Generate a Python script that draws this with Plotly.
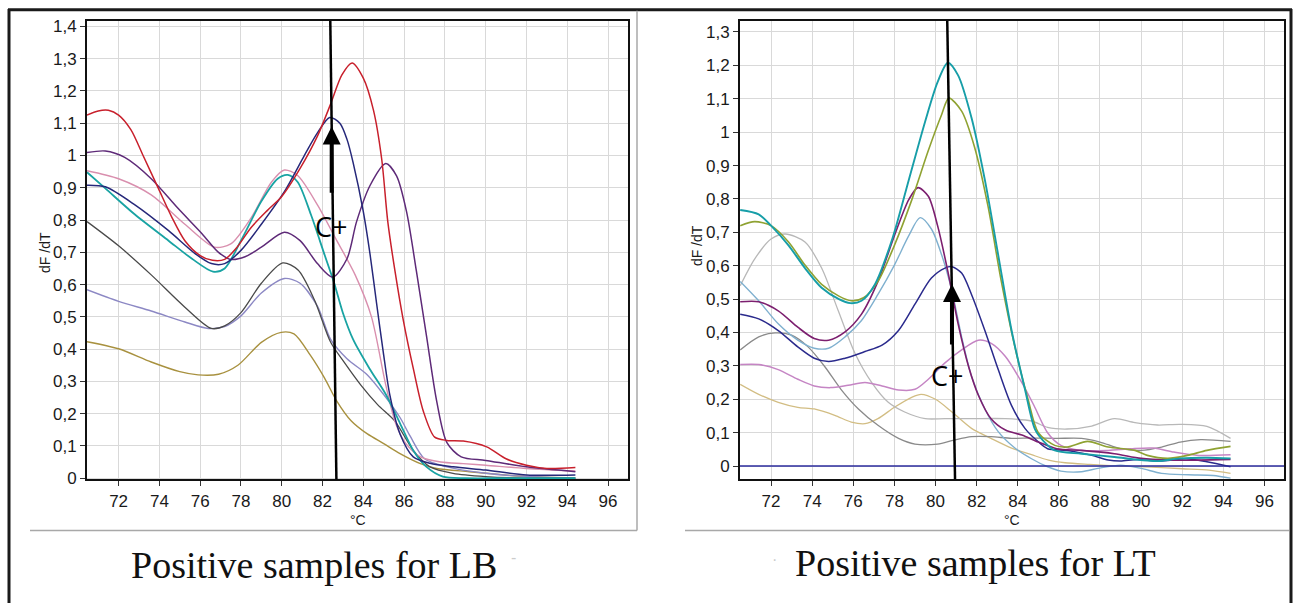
import plotly.graph_objects as go

# ---------------- DATA : left panel (LB) ----------------
LB_red_T = [70.45, 71.0, 71.5, 72.0, 72.6, 73.2, 73.95, 74.6, 75.25, 76.0, 76.6, 77.2, 77.8, 78.5, 79.3, 80.0, 80.9, 81.75, 82.4, 82.95, 83.45, 84.0, 84.5, 84.9, 85.2, 85.55, 85.96, 86.45, 86.94, 87.5, 88.1, 88.9, 90.05, 91.0, 92.0, 93.0, 94.4]
LB_red_V = [1.125, 1.138, 1.14, 1.125, 1.08, 1.0, 0.898, 0.81, 0.736, 0.69, 0.675, 0.678, 0.715, 0.777, 0.83, 0.873, 0.96, 1.06, 1.16, 1.25, 1.287, 1.24, 1.14, 0.99, 0.795, 0.643, 0.49, 0.34, 0.208, 0.127, 0.117, 0.115, 0.097, 0.06, 0.04, 0.03, 0.033]

LB_navy_T = [70.45, 71.35, 72.8, 74.45, 75.75, 76.55, 77.2, 78.0, 79.0, 80.13, 81.1, 81.75, 82.35, 82.85, 83.2, 83.5, 84.0, 84.33, 84.65, 84.98, 85.3, 85.8, 86.45, 87.27, 88.4, 90.0, 92.0, 94.4]
LB_navy_V = [0.908, 0.903, 0.847, 0.767, 0.696, 0.665, 0.665, 0.706, 0.787, 0.888, 0.999, 1.07, 1.118, 1.1, 1.05, 0.978, 0.826, 0.694, 0.542, 0.39, 0.258, 0.137, 0.066, 0.046, 0.035, 0.025, 0.01, 0.01]

LB_purple_T = [70.45, 71.35, 72.3, 73.6, 74.9, 76.1, 76.9, 77.5, 78.2, 79.0, 80.13, 80.9, 81.75, 82.5, 83.2, 83.67, 84.33, 85.1, 85.63, 86.12, 86.6, 87.1, 87.6, 88.1, 88.8, 90.0, 92.0, 94.4]
LB_purple_V = [1.009, 1.014, 0.994, 0.928, 0.837, 0.757, 0.70, 0.678, 0.686, 0.716, 0.762, 0.736, 0.665, 0.623, 0.68, 0.795, 0.907, 0.975, 0.937, 0.826, 0.643, 0.44, 0.238, 0.11, 0.066, 0.055, 0.035, 0.02]

LB_pink_T = [70.45, 72.0, 73.6, 75.25, 76.7, 77.5, 78.5, 79.5, 80.13, 80.78, 81.75, 82.7, 83.6, 84.4, 85.1, 85.6, 86.1, 86.8, 87.8, 88.9, 90.0, 92.0, 94.4]
LB_pink_V = [0.953, 0.928, 0.878, 0.787, 0.716, 0.726, 0.807, 0.918, 0.955, 0.938, 0.847, 0.736, 0.63, 0.5, 0.289, 0.167, 0.106, 0.066, 0.05, 0.045, 0.04, 0.03, 0.022]

LB_teal_T = [70.45, 71.35, 72.8, 74.45, 75.6, 76.63, 77.2, 78.0, 79.0, 79.8, 80.3, 80.78, 81.43, 82.08, 82.57, 83.0, 83.5, 84.3, 85.1, 85.8, 86.45, 87.1, 87.9, 89.0, 91.0, 94.4]
LB_teal_V = [0.948, 0.898, 0.817, 0.736, 0.68, 0.64, 0.65, 0.736, 0.858, 0.928, 0.94, 0.918, 0.817, 0.696, 0.605, 0.512, 0.43, 0.34, 0.26, 0.17, 0.086, 0.035, 0.005, 0.0, 0.0, 0.0]

LB_dgray_T = [70.45, 72.0, 73.6, 75.25, 76.55, 77.2, 78.0, 79.0, 80.05, 80.8, 81.6, 82.4, 83.05, 83.87, 84.7, 85.55, 86.45, 87.27, 88.4, 90.0, 92.0, 94.4]
LB_dgray_V = [0.795, 0.72, 0.63, 0.53, 0.464, 0.472, 0.513, 0.604, 0.667, 0.645, 0.553, 0.421, 0.36, 0.289, 0.228, 0.177, 0.086, 0.035, 0.015, 0.005, 0.0, 0.0]

LB_lav_T = [70.45, 72.0, 73.6, 75.25, 76.4, 77.2, 78.0, 79.0, 80.13, 80.9, 81.75, 82.4, 83.2, 84.2, 85.0, 85.8, 86.3, 87.0, 88.1, 90.0, 92.0, 94.4]
LB_lav_V = [0.584, 0.548, 0.518, 0.484, 0.464, 0.47, 0.503, 0.574, 0.619, 0.604, 0.533, 0.43, 0.37, 0.32, 0.259, 0.188, 0.13, 0.06, 0.035, 0.015, 0.005, 0.0]

LB_olive_T = [70.45, 72.0, 73.6, 75.0, 75.9, 76.9, 77.85, 79.0, 79.97, 80.6, 81.4, 82.1, 82.7, 83.4, 84.2, 85.0, 85.8, 86.8, 87.6, 89.2, 90.9, 92.0, 94.4]
LB_olive_V = [0.423, 0.401, 0.36, 0.33, 0.32, 0.322, 0.35, 0.421, 0.452, 0.447, 0.381, 0.31, 0.239, 0.178, 0.137, 0.107, 0.076, 0.045, 0.03, 0.02, 0.01, 0.005, 0.0]

# ---------------- DATA : right panel (LT) ----------------
LT_teal_T = [70.5, 71.4, 72.0, 72.85, 73.65, 74.46, 75.3, 75.85, 76.4, 77.05, 77.9, 78.7, 79.5, 80.1, 80.6, 81.1, 81.75, 82.4, 83.05, 83.7, 84.35, 84.84, 85.3, 85.8, 87.1, 88.7, 90.0, 90.8, 91.9, 93.2, 94.35]
LT_teal_V = [0.767, 0.754, 0.72, 0.661, 0.593, 0.534, 0.5, 0.488, 0.495, 0.544, 0.681, 0.857, 1.033, 1.15, 1.208, 1.17, 1.043, 0.857, 0.632, 0.406, 0.23, 0.11, 0.072, 0.047, 0.037, 0.027, 0.018, 0.015, 0.023, 0.025, 0.023]

LT_green_T = [70.5, 71.2, 72.0, 72.85, 73.65, 74.46, 75.3, 75.9, 76.5, 77.2, 78.0, 78.85, 79.65, 80.3, 80.65, 81.27, 81.9, 82.55, 83.2, 83.86, 84.5, 85.0, 85.8, 86.4, 87.4, 88.4, 89.7, 90.3, 91.3, 92.25, 93.2, 94.35]
LT_green_V = [0.72, 0.732, 0.72, 0.671, 0.602, 0.544, 0.509, 0.495, 0.504, 0.553, 0.661, 0.798, 0.945, 1.053, 1.102, 1.063, 0.955, 0.779, 0.553, 0.357, 0.2, 0.1, 0.062, 0.057, 0.074, 0.057, 0.047, 0.032, 0.023, 0.032, 0.047, 0.059]

LT_magenta_T = [70.5, 71.4, 72.35, 73.3, 74.1, 74.8, 75.6, 76.4, 77.2, 78.0, 78.7, 79.15, 79.65, 80.1, 80.6, 81.1, 81.6, 82.1, 82.7, 83.4, 84.2, 85.0, 85.9, 87.1, 88.7, 90.0, 91.3, 92.8, 94.35]
LT_magenta_V = [0.492, 0.492, 0.465, 0.416, 0.382, 0.377, 0.402, 0.455, 0.553, 0.69, 0.798, 0.834, 0.808, 0.72, 0.583, 0.426, 0.3, 0.21, 0.142, 0.108, 0.093, 0.072, 0.052, 0.047, 0.037, 0.023, 0.018, 0.018, 0.02]

LT_steel_T = [70.5, 71.4, 72.35, 73.3, 74.1, 74.8, 75.6, 76.4, 77.2, 78.0, 78.7, 79.25, 79.8, 80.3, 80.8, 81.27, 81.75, 82.4, 83.05, 83.86, 84.67, 85.45, 86.1, 87.1, 87.9, 89.0, 90.0, 91.0, 92.3, 93.5, 94.35]
LT_steel_V = [0.553, 0.495, 0.426, 0.377, 0.353, 0.353, 0.387, 0.436, 0.514, 0.602, 0.69, 0.744, 0.71, 0.632, 0.524, 0.387, 0.269, 0.171, 0.103, 0.054, 0.022, -0.002, -0.015, -0.017, -0.007, 0.003, -0.007, -0.022, -0.026, -0.028, -0.036]

LT_navy_T = [70.5, 71.4, 72.35, 73.3, 74.1, 74.8, 75.6, 76.57, 77.4, 78.2, 79.0, 79.8, 80.46, 80.8, 81.27, 81.75, 82.4, 83.05, 83.7, 84.35, 84.9, 85.45, 86.4, 87.6, 88.4, 89.0, 89.8, 90.9, 92.2, 93.2, 94.35]
LT_navy_V = [0.455, 0.441, 0.406, 0.357, 0.323, 0.313, 0.323, 0.343, 0.362, 0.406, 0.485, 0.563, 0.593, 0.597, 0.578, 0.514, 0.406, 0.289, 0.181, 0.113, 0.078, 0.052, 0.047, 0.032, 0.018, 0.015, 0.02, 0.015, 0.022, 0.013, -0.002]

LT_orchid_T = [70.5, 71.4, 72.35, 73.3, 74.1, 74.9, 75.75, 76.57, 77.4, 78.2, 79.0, 79.65, 80.46, 81.27, 82.08, 82.73, 83.4, 84.2, 84.8, 85.45, 86.1, 87.1, 88.4, 89.5, 90.6, 91.6, 92.8, 94.35]
LT_orchid_V = [0.304, 0.304, 0.289, 0.26, 0.24, 0.235, 0.242, 0.25, 0.24, 0.228, 0.23, 0.26, 0.309, 0.348, 0.377, 0.367, 0.328, 0.25, 0.18, 0.1, 0.062, 0.047, 0.047, 0.052, 0.054, 0.042, 0.032, 0.034]

LT_lgray_T = [70.5, 71.2, 72.0, 72.7, 73.65, 74.46, 75.27, 76.08, 76.9, 77.7, 78.5, 79.5, 80.46, 81.75, 83.4, 84.67, 85.45, 86.4, 87.6, 88.7, 89.7, 90.8, 91.9, 93.2, 94.35]
LT_lgray_V = [0.54, 0.62, 0.68, 0.695, 0.671, 0.593, 0.465, 0.338, 0.25, 0.191, 0.162, 0.142, 0.142, 0.142, 0.142, 0.135, 0.116, 0.111, 0.12, 0.142, 0.13, 0.123, 0.125, 0.119, 0.083]

LT_mgray_T = [70.5, 71.4, 72.2, 73.0, 73.8, 74.6, 75.4, 76.25, 77.2, 78.2, 79.0, 80.1, 80.9, 81.75, 82.7, 83.7, 84.65, 85.9, 87.1, 88.0, 89.0, 90.0, 91.0, 91.9, 92.9, 94.35]
LT_mgray_V = [0.348, 0.387, 0.399, 0.392, 0.357, 0.299, 0.23, 0.171, 0.122, 0.083, 0.066, 0.066, 0.078, 0.088, 0.088, 0.083, 0.084, 0.083, 0.083, 0.072, 0.052, 0.047, 0.057, 0.072, 0.079, 0.074]

LT_tan_T = [70.5, 71.4, 72.35, 73.3, 74.1, 75.1, 75.9, 76.57, 77.2, 78.0, 78.84, 79.3, 80.0, 80.8, 81.75, 82.7, 83.7, 84.67, 85.5, 86.3, 87.5, 89.0, 90.5, 92.0, 93.3, 94.35]
LT_tan_V = [0.245, 0.215, 0.191, 0.176, 0.171, 0.152, 0.132, 0.127, 0.142, 0.176, 0.206, 0.215, 0.2, 0.162, 0.113, 0.083, 0.054, 0.034, 0.018, 0.01, 0.005, 0.0, -0.003, -0.008, -0.012, -0.022]

X_TICKS = [72, 74, 76, 78, 80, 82, 84, 86, 88, 90, 92, 94, 96]
LB_Y_TICKS = [0, 0.1, 0.2, 0.3, 0.4, 0.5, 0.6, 0.7, 0.8, 0.9, 1.0, 1.1, 1.2, 1.3, 1.4]
LT_Y_TICKS = [0, 0.1, 0.2, 0.3, 0.4, 0.5, 0.6, 0.7, 0.8, 0.9, 1.0, 1.1, 1.2, 1.3]
CAPTIONS = ["Positive samples for LB", "Positive samples for LT"]

# ---------------- FIGURE ----------------
W, H = 1295, 610
def px(x):
    return x / W
def py(y):
    return 1 - y / H

fig = go.Figure()

left_series = [
    (LB_olive_T, LB_olive_V, "#a8913f", 1.4),
    (LB_lav_T, LB_lav_V, "#8c88c4", 1.4),
    (LB_dgray_T, LB_dgray_V, "#4a4a4a", 1.3),
    (LB_pink_T, LB_pink_V, "#d98fae", 1.4),
    (LB_teal_T, LB_teal_V, "#19a3a3", 1.8),
    (LB_purple_T, LB_purple_V, "#5e2a78", 1.5),
    (LB_navy_T, LB_navy_V, "#26287a", 1.5),
    (LB_red_T, LB_red_V, "#c8202c", 1.5),
]
for T, V, c, w in left_series:
    fig.add_trace(go.Scatter(x=T, y=V, mode="lines", xaxis="x", yaxis="y",
                             line=dict(color=c, width=w, shape="spline", smoothing=0.8),
                             showlegend=False, hoverinfo="skip"))

right_series = [
    (LT_tan_T, LT_tan_V, "#d2bd83", 1.3),
    (LT_mgray_T, LT_mgray_V, "#8a8a8a", 1.3),
    (LT_lgray_T, LT_lgray_V, "#b8b8b8", 1.3),
    (LT_orchid_T, LT_orchid_V, "#c585c4", 1.5),
    (LT_steel_T, LT_steel_V, "#7fb0cf", 1.4),
    (LT_navy_T, LT_navy_V, "#2a2a8c", 1.5),
    (LT_magenta_T, LT_magenta_V, "#7c1f6f", 1.6),
    (LT_green_T, LT_green_V, "#8fa232", 1.6),
    (LT_teal_T, LT_teal_V, "#179ea8", 1.9),
]
for T, V, c, w in right_series:
    fig.add_trace(go.Scatter(x=T, y=V, mode="lines", xaxis="x2", yaxis="y2",
                             line=dict(color=c, width=w, shape="spline", smoothing=0.8),
                             showlegend=False, hoverinfo="skip"))

tick_font = dict(family="Liberation Sans Narrow, Arial Narrow, Liberation Sans, Arial", size=17, color="#1a1a1a")
axis_common = dict(showgrid=True, gridcolor="#d9d9d9", gridwidth=1, zeroline=False,
                   showline=True, linecolor="#111111", linewidth=2, mirror=True,
                   ticks="outside", ticklen=5, tickwidth=1, tickcolor="#333333",
                   tickfont=tick_font, fixedrange=True)

fig.update_layout(
    width=W, height=H, autosize=False,
    margin=dict(l=0, r=0, t=0, b=0),
    paper_bgcolor="white", plot_bgcolor="white",
    separators=", ",
    showlegend=False,
    xaxis=dict(domain=[px(87), px(628)], range=[70.45, 96.98], tickvals=X_TICKS,
               anchor="y", **axis_common),
    yaxis=dict(domain=[py(486), py(18)], range=[-0.004, 1.418], tickvals=LB_Y_TICKS,
               anchor="x", **axis_common),
    xaxis2=dict(domain=[px(740), px(1284)], range=[70.49, 96.95], tickvals=X_TICKS,
                anchor="y2", **axis_common),
    yaxis2=dict(domain=[py(486), py(18)], range=[-0.04, 1.334], tickvals=LT_Y_TICKS,
                anchor="x2", **axis_common),
)

shapes = []
# outer frame
shapes.append(dict(type="line", xref="paper", yref="paper", x0=px(8), x1=px(1292), y0=py(7), y1=py(7),
                   line=dict(color="#1a1a1a", width=3)))
shapes.append(dict(type="line", xref="paper", yref="paper", x0=px(9), x1=px(9), y0=py(6), y1=py(612),
                   line=dict(color="#1a1a1a", width=3)))
shapes.append(dict(type="line", xref="paper", yref="paper", x0=px(1291), x1=px(1291), y0=py(6), y1=py(612),
                   line=dict(color="#1a1a1a", width=3)))
# gray chart-control frames
shapes.append(dict(type="line", xref="paper", yref="paper", x0=px(637), x1=px(637), y0=py(8), y1=py(538),
                   line=dict(color="#a8a8a8", width=1.5)))
shapes.append(dict(type="line", xref="paper", yref="paper", x0=px(30), x1=px(637), y0=py(538), y1=py(538),
                   line=dict(color="#a8a8a8", width=1.5)))
shapes.append(dict(type="line", xref="paper", yref="paper", x0=px(685), x1=px(1289), y0=py(538), y1=py(538),
                   line=dict(color="#a8a8a8", width=1.5)))
# zero baseline in right panel
shapes.append(dict(type="line", xref="x2 domain", yref="y2", x0=0, x1=1, y0=0, y1=0,
                   line=dict(color="#2b2b9c", width=1.5)))
# vertical marker lines (C+ melting temperature)
shapes.append(dict(type="line", xref="x", yref="y", x0=82.38, x1=82.68, y0=1.418, y1=-0.004,
                   line=dict(color="black", width=2.5)))
shapes.append(dict(type="line", xref="x2", yref="y2", x0=80.57, x1=80.95, y0=1.334, y1=-0.04,
                   line=dict(color="black", width=2.5)))
fig.update_layout(shapes=shapes)

ann = []
# arrows
ann.append(dict(x=82.45, y=1.09, ax=82.45, ay=0.88, xref="x", yref="y", axref="x", ayref="y",
                showarrow=True, arrowhead=2, arrowsize=0.9, arrowwidth=4, arrowcolor="black", text=""))
ann.append(dict(x=80.8, y=0.545, ax=80.8, ay=0.36, xref="x2", yref="y2", axref="x2", ayref="y2",
                showarrow=True, arrowhead=2, arrowsize=0.9, arrowwidth=4, arrowcolor="black", text=""))
# C+ labels
cfont = dict(family="Open Sans, Liberation Sans, Arial", size=27, color="black")
ann.append(dict(x=82.4, y=0.78, xref="x", yref="y", text="C+", showarrow=False, font=cfont,
                xanchor="center", yanchor="middle"))
ann.append(dict(x=80.57, y=0.27, xref="x2", yref="y2", text="C+", showarrow=False, font=cfont,
                xanchor="center", yanchor="middle"))
# axis titles
tfont = dict(family="Liberation Sans Narrow, Arial Narrow, Liberation Sans, Arial", size=14, color="#1a1a1a")
for tx, ty, txt, ang in [(45, 255, "dF /dT", -90), (697, 248, "dF /dT", -90),
                          (358, 527, "°C", 0), (1012, 527, "°C", 0)]:
    ann.append(dict(x=px(tx), y=py(ty), xref="paper", yref="paper", text=txt, textangle=ang,
                    showarrow=False, font=tfont, xanchor="center", yanchor="middle"))
# captions
capfont = dict(family="Liberation Serif, Times New Roman, serif", size=38, color="#111111")
ann.append(dict(x=px(314), y=py(573), xref="paper", yref="paper", text=CAPTIONS[0], showarrow=False,
                font=capfont, xanchor="center", yanchor="middle"))
ann.append(dict(x=px(975), y=py(571), xref="paper", yref="paper", text=CAPTIONS[1], showarrow=False,
                font=capfont, xanchor="center", yanchor="middle"))
# faint scan marks next to captions
ann.append(dict(x=px(513), y=py(566), xref="paper", yref="paper", text="-", showarrow=False,
                font=dict(family="Liberation Sans", size=16, color="#cccccc"), xanchor="center", yanchor="middle"))
ann.append(dict(x=px(774), y=py(568), xref="paper", yref="paper", text="·", showarrow=False,
                font=dict(family="Liberation Sans", size=16, color="#cccccc"), xanchor="center", yanchor="middle"))
fig.update_layout(annotations=ann)

post = (
    "var de=document.documentElement, b=document.body;"
    "de.style.margin='0';de.style.padding='0';de.style.overflow='hidden';"
    "b.style.margin='0';b.style.padding='0';b.style.overflow='hidden';"
)
fig.write_html("out.html", config={"displayModeBar": False, "staticPlot": True}, post_script=post)
